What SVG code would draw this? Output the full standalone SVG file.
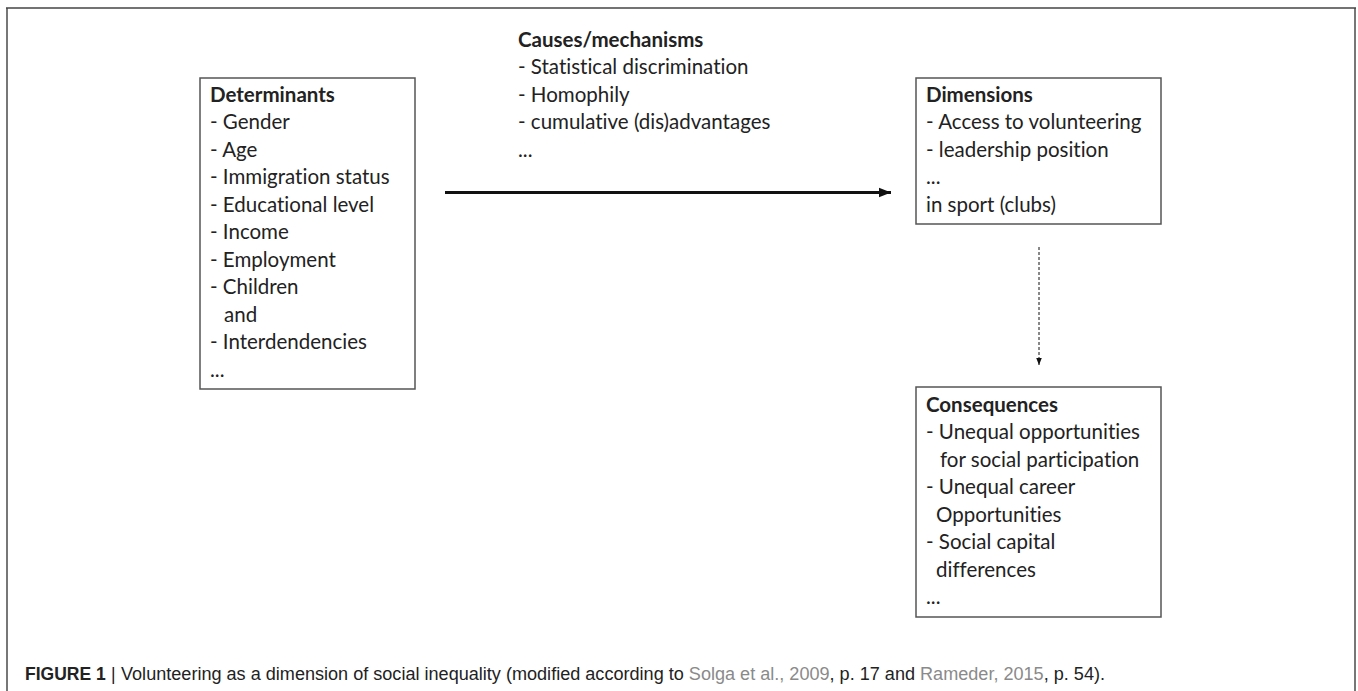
<svg xmlns="http://www.w3.org/2000/svg" width="1358" height="691" viewBox="0 0 1358 691">
<defs>
<style>
.box{fill:#fff;stroke:#555;stroke-width:1.5}
.t{font-family:Lato,"Liberation Sans",sans-serif;font-size:20.5px;fill:#222;font-variant-ligatures:none}
.h{font-weight:bold}
.cap{font-family:"Liberation Sans",Arial,sans-serif;font-size:17.5px;fill:#222}
.ref{fill:#8a8a8a}
</style>
<marker id="ah" viewBox="0 0 10 10" refX="10" refY="5" markerWidth="4" markerHeight="4" orient="auto" markerUnits="strokeWidth"><path d="M0,1 L10,5 L0,9 z" fill="#111"/></marker>
<marker id="ah2" viewBox="0 0 10 10" refX="10" refY="5" markerWidth="7" markerHeight="7" orient="auto" markerUnits="strokeWidth"><path d="M0,1 L10,5 L0,9 z" fill="#111"/></marker>
</defs>
<rect width="1358" height="691" fill="#fff"/>
<g id="frame">
<path d="M7,691 V8" stroke="#777" stroke-width="2" fill="none"/>
<path d="M1355,691 V8" stroke="#777" stroke-width="2" fill="none"/>
<path d="M6,8 H1356" stroke="#444" stroke-width="1.5" fill="none"/>
</g>
<g id="connectors">
<line x1="445" y1="192.5" x2="891" y2="192.5" stroke="#111" stroke-width="3" marker-end="url(#ah)"/>
<line x1="1039" y1="247" x2="1039" y2="365" stroke="#111" stroke-width="1" stroke-dasharray="3,2" marker-end="url(#ah2)"/>
</g>
<g id="determinants">
<rect class="box" x="200" y="78" width="215" height="311"/>
<text class="t"><tspan class="h" x="210" y="102">Determinants</tspan><tspan x="210" y="129">- Gender</tspan><tspan x="210" y="157">- Age</tspan><tspan x="210" y="184">- Immigration status</tspan><tspan x="210" y="212">- Educational level</tspan><tspan x="210" y="239">- Income</tspan><tspan x="210" y="267">- Employment</tspan><tspan x="210" y="294">- Children</tspan><tspan x="224" y="322">and</tspan><tspan x="210" y="349">- Interdendencies</tspan><tspan x="210" y="377">...</tspan></text>
</g>
<g id="causes">
<text class="t"><tspan class="h" x="518" y="47">Causes/mechanisms</tspan><tspan x="518" y="74">- Statistical discrimination</tspan><tspan x="518" y="102">- Homophily</tspan><tspan x="518" y="129">- cumulative (dis)advantages</tspan><tspan x="518" y="157">...</tspan></text>
</g>
<g id="dimensions">
<rect class="box" x="916" y="78" width="245" height="146"/>
<text class="t"><tspan class="h" x="926" y="102">Dimensions</tspan><tspan x="926" y="129">- Access to volunteering</tspan><tspan x="926" y="157">- leadership position</tspan><tspan x="926" y="184">...</tspan><tspan x="926" y="212">in sport (clubs)</tspan></text>
</g>
<g id="consequences">
<rect class="box" x="916" y="387" width="245" height="230"/>
<text class="t"><tspan class="h" x="926" y="412">Consequences</tspan><tspan x="926" y="439">- Unequal opportunities</tspan><tspan x="940" y="467">for social participation</tspan><tspan x="926" y="494">- Unequal career</tspan><tspan x="936" y="522">Opportunities</tspan><tspan x="926" y="549">- Social capital</tspan><tspan x="936" y="577">differences</tspan><tspan x="926" y="604">...</tspan></text>
</g>
<g id="caption">
<text class="cap" x="25" y="680" font-weight="bold" font-size="17px">FIGURE 1</text>
<text class="cap" x="111" y="680">|</text>
<text class="cap" x="121" y="680" textLength="984" lengthAdjust="spacingAndGlyphs">Volunteering as a dimension of social inequality (modified according to <tspan class="ref">Solga et al., 2009</tspan>, p. 17 and <tspan class="ref">Rameder, 2015</tspan>, p. 54).</text>
</g>
</svg>
